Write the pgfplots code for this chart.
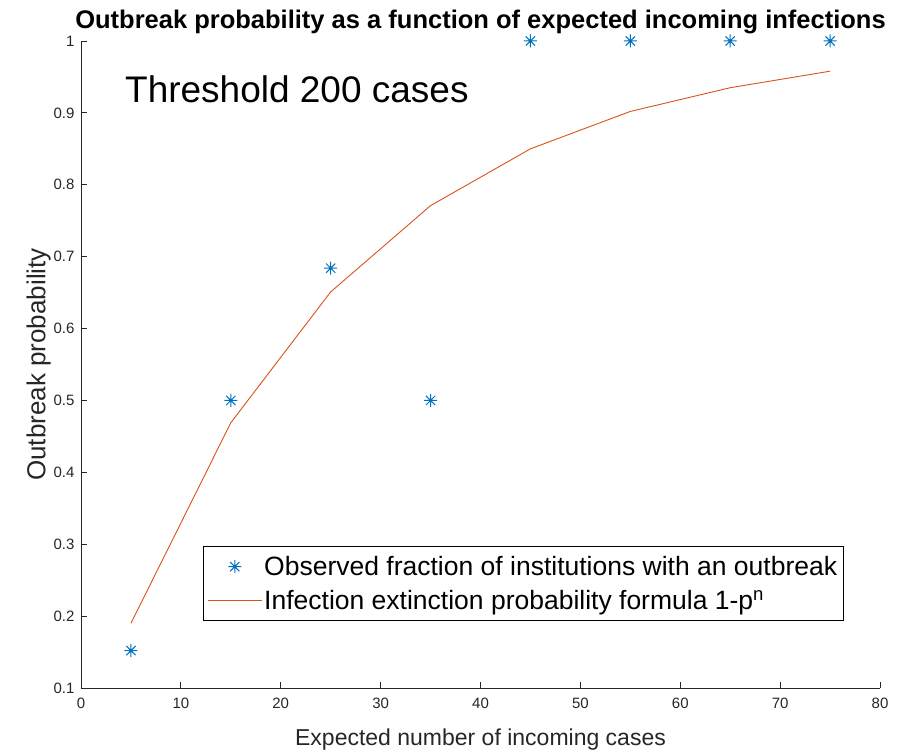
\documentclass[border=0pt]{standalone}
\usepackage{fontspec}
\setmainfont{Liberation Sans}
\usepackage{pgfplots}
\pgfplotsset{compat=1.18}

\definecolor{mblue}{rgb}{0,0.447,0.741}
\definecolor{morange}{rgb}{0.85,0.325,0.098}
\definecolor{maxis}{rgb}{0.15,0.15,0.15}

% eight-armed asterisk (plus and cross)
\pgfdeclareplotmark{matstar}{%
  \pgfpathmoveto{\pgfqpoint{-\pgfplotmarksize}{0pt}}%
  \pgfpathlineto{\pgfqpoint{\pgfplotmarksize}{0pt}}%
  \pgfpathmoveto{\pgfqpoint{0pt}{-\pgfplotmarksize}}%
  \pgfpathlineto{\pgfqpoint{0pt}{\pgfplotmarksize}}%
  \pgfpathmoveto{\pgfqpoint{-.707\pgfplotmarksize}{-.707\pgfplotmarksize}}%
  \pgfpathlineto{\pgfqpoint{.707\pgfplotmarksize}{.707\pgfplotmarksize}}%
  \pgfpathmoveto{\pgfqpoint{-.707\pgfplotmarksize}{.707\pgfplotmarksize}}%
  \pgfpathlineto{\pgfqpoint{.707\pgfplotmarksize}{-.707\pgfplotmarksize}}%
  \pgfusepathqstroke}

\begin{document}
\begin{tikzpicture}
\begin{axis}[
  at={(0pt,0pt)}, anchor=south west,
  scale only axis,
  width=799pt, height=647pt,
  xmin=0, xmax=80, ymin=0.1, ymax=1,
  axis lines=left,
  axis line style={-, draw=maxis, line width=0.8pt},
  xtick={0,10,...,80},
  ytick={0.1,0.2,...,1.0},
  yticklabels={0.1,0.2,0.3,0.4,0.5,0.6,0.7,0.8,0.9,1},
  tick align=inside,
  major tick length=6pt,
  every tick/.style={draw=maxis, line width=0.8pt},
  /pgf/number format/assume math mode=true,
  tick label style={font=\fontsize{15}{18}\selectfont, text=maxis},
  yticklabel style={xshift=-3pt},
  xticklabel style={yshift=-6pt},
  title={\bfseries Outbreak probability as a function of expected incoming infections},
  title style={font=\fontsize{25.5}{28}\selectfont, yshift=-2pt},
  xlabel={Expected number of incoming cases},
  ylabel={Outbreak probability},
  label style={text=maxis},
  xlabel style={font=\fontsize{23}{26}\selectfont, yshift=-14pt},
  ylabel style={font=\fontsize{26}{30}\selectfont, yshift=-4pt},
  legend cell align=left,
  legend style={at={(rel axis cs:0.1527,0.2195)}, anchor=north west,
    draw=black, line width=0.6pt, fill=white,
    font=\fontsize{26.5}{28}\selectfont,
    inner xsep=4pt, inner ysep=8pt, row sep=9pt},
]
\addplot[only marks, mark=matstar, mark size=6.5pt, mark options={draw=mblue, line width=1pt},
  legend image code/.code={\draw[mark repeat=2,mark phase=2] plot coordinates {(0pt,0pt) (27pt,0pt) (54pt,0pt)};}]
  coordinates {(5,0.152) (15,0.5) (25,0.684) (35,0.5) (45,1) (55,1) (65,1) (75,1)};
\addlegendentry{Observed fraction of institutions with an outbreak}
\addplot[draw=morange, line width=0.9pt, mark=none,
  legend image code/.code={\draw (0pt,0pt) -- (54pt,0pt);}]
  coordinates {(5,0.190) (15,0.469) (25,0.651) (35,0.771) (45,0.850) (55,0.902) (65,0.935) (75,0.958)};
\addlegendentry{Infection extinction probability formula 1-p\textsuperscript{n}}
\node[anchor=base west, inner sep=0pt, font=\fontsize{37}{40}\selectfont]
  at (axis cs:4.4,0.915) {Threshold 200 cases};
\end{axis}
\pgfresetboundingbox
\path (-81pt,-67pt) rectangle (824pt,688pt);
\end{tikzpicture}
\end{document}
